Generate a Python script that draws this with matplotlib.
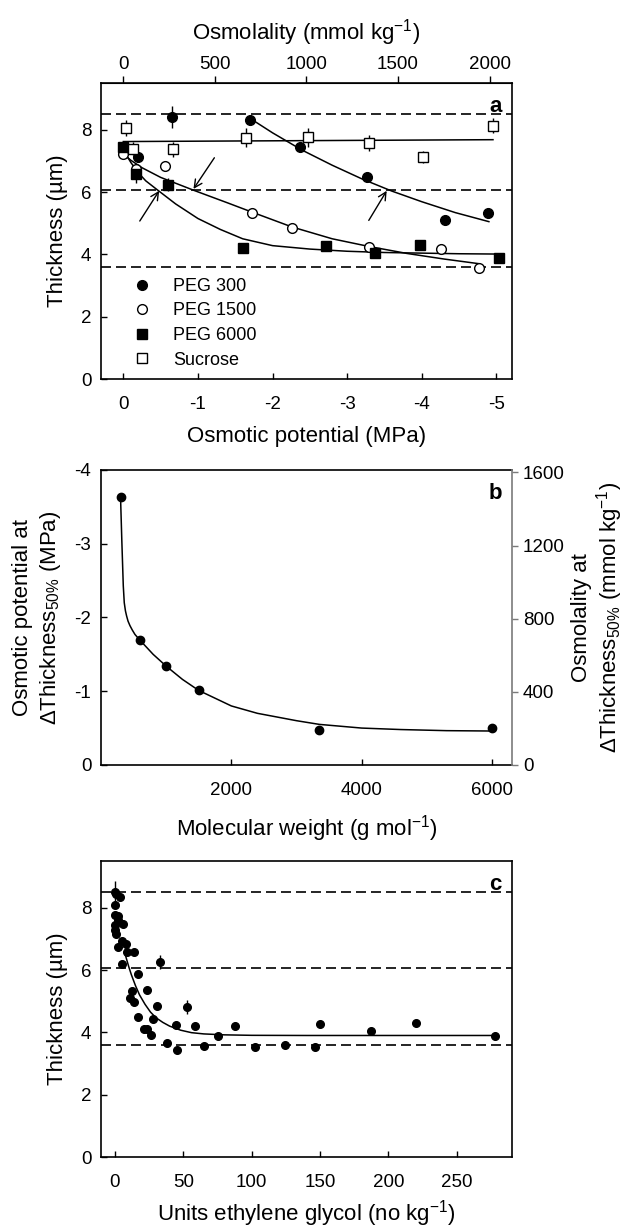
"""Three-panel figure: leaf thickness vs osmotic potential, PEG molecular weight and ethylene glycol units."""

import matplotlib

matplotlib.use("Agg")
import matplotlib.pyplot as plt
from matplotlib.lines import Line2D

plt.rcParams["font.family"] = ["Liberation Sans", "DejaVu Sans"]
plt.rcParams["mathtext.fontset"] = "custom"
plt.rcParams["mathtext.rm"] = "Liberation Sans"
plt.rcParams["mathtext.it"] = "Liberation Sans:italic"
plt.rcParams["mathtext.bf"] = "Liberation Sans:bold"
plt.rcParams["axes.unicode_minus"] = False

# ---- panel a: thickness vs osmotic potential ----
peg300_mpa = [-0.19, -0.65, -1.70, -2.37, -3.26, -4.31, -4.89]
peg300_t = [7.12, 8.40, 8.31, 7.46, 6.48, 5.09, 5.33]
peg300_err = [0.15, 0.35, 0.15, 0.10, 0.10, 0.10, 0.10]

peg1500_mpa = [0.0, -0.17, -0.56, -1.72, -2.26, -3.29, -4.26, -4.77]
peg1500_t = [7.23, 6.73, 6.82, 5.34, 4.86, 4.23, 4.18, 3.55]
peg1500_err = [0.10, 0.15, 0.10, 0.08, 0.08, 0.08, 0.08, 0.08]

peg6000_mpa = [0.0, -0.17, -0.60, -1.60, -2.71, -3.375, -3.98, -5.03]
peg6000_t = [7.44, 6.58, 6.24, 4.22, 4.28, 4.04, 4.29, 3.87]
peg6000_err = [0.20, 0.30, 0.20, 0.08, 0.08, 0.08, 0.08, 0.08]

sucrose_mpa = [-0.03, -0.125, -0.66, -1.64, -2.47, -3.29, -4.02, -4.955]
sucrose_t = [8.06, 7.39, 7.37, 7.74, 7.76, 7.57, 7.12, 8.13]
sucrose_err = [0.25, 0.20, 0.25, 0.30, 0.30, 0.25, 0.20, 0.25]

# fitted curves
fit300_mpa = [-1.74, -2.0, -2.4, -2.8, -3.2, -3.6, -4.0, -4.45, -4.9]
fit300_t = [8.30, 7.90, 7.34, 6.86, 6.42, 6.03, 5.69, 5.34, 5.05]
fit1500_mpa = [0.0, -0.1, -0.25, -0.5, -0.95, -1.4, -1.72, -2.26, -2.8, -3.3, -3.8, -4.3, -4.77]
fit1500_t = [7.22, 7.02, 6.78, 6.47, 6.05, 5.65, 5.36, 4.88, 4.50, 4.25, 4.03, 3.85, 3.70]
fit6000_mpa = [0.0, -0.1, -0.2, -0.3, -0.45, -0.7, -1.0, -1.3, -1.6, -2.0, -2.5, -3.0, -3.5, -4.0, -4.5, -5.03]
fit6000_t = [7.35, 6.95, 6.62, 6.36, 6.08, 5.62, 5.15, 4.80, 4.50, 4.28, 4.17, 4.10, 4.06, 4.04, 4.02, 4.01]
fitsuc_mpa = [0.0, -4.955]
fitsuc_t = [7.62, 7.68]

# arrows (tail -> tip) marking the 50 % thickness crossing
arrow_tails = [(-0.22, 5.07), (-1.22, 7.10), (-3.29, 5.09)]
arrow_tips = [(-0.48, 6.04), (-0.94, 6.10), (-3.53, 6.04)]

# reference thickness levels (dashed)
ref_levels = [8.5, 6.05, 3.6]

# ---- panel b: osmotic potential at 50 % thickness vs molecular weight ----
mw = [300, 600, 1000, 1500, 3350, 6000]
mw_mpa = [-3.63, -1.69, -1.34, -1.01, -0.47, -0.50]
mw_fit = [300, 320, 342, 357, 375, 393, 415, 444, 480, 521, 560, 600, 800, 1000, 1250, 1500, 2000, 2400,
          3000, 3350, 4000, 4600, 5300, 6000]
mw_fit_mpa = [-3.63, -3.03, -2.43, -2.20, -2.09, -2.02, -1.95, -1.89, -1.83, -1.77, -1.73, -1.69, -1.50,
              -1.34, -1.16, -1.01, -0.80, -0.70, -0.60, -0.55, -0.50, -0.48, -0.465, -0.46]

# ---- panel c: thickness vs units ethylene glycol ----
eg = [0, 1, 4, 0, 0, 2, 0, 2, 6, 0, 1, 2, 5, 8, 8.5, 14, 5, 33, 17, 12.4, 23.4, 10.9, 13.9, 30.7, 52.8, 17,
      27.7, 44.8, 58.4, 88, 150, 187, 220, 278, 21.2, 23.1, 26, 75.4, 38.2, 45.5, 65.2, 102.7, 124, 146]
eg_t = [8.50, 8.45, 8.34, 8.10, 7.78, 7.72, 7.43, 7.60, 7.47, 7.27, 7.17, 6.75, 6.92, 6.82, 6.58, 6.57, 6.19,
        6.25, 5.88, 5.34, 5.37, 5.09, 4.96, 4.86, 4.82, 4.50, 4.42, 4.25, 4.19, 4.22, 4.28, 4.04, 4.29, 3.88,
        4.11, 4.11, 3.93, 3.87, 3.67, 3.43, 3.56, 3.52, 3.59, 3.52]
eg_err = [0.35, 0.1, 0.1, 0.1, 0.1, 0.1, 0.1, 0.1, 0.1, 0.1, 0.1, 0.1, 0.1, 0.1, 0.1, 0.1, 0.1, 0.22, 0.1,
          0.1, 0.1, 0.1, 0.1, 0.1, 0.22, 0.1, 0.1, 0.1, 0.1, 0.1, 0.1, 0.1, 0.1, 0.1, 0.1, 0.1, 0.1, 0.1,
          0.1, 0.1, 0.1, 0.1, 0.1, 0.1]
eg_fit = [7.5, 10, 12, 15, 18, 22, 26, 30, 35, 40, 48, 56, 65, 80, 100, 140, 200, 278]
eg_fit_t = [6.50, 6.12, 5.85, 5.50, 5.20, 4.90, 4.65, 4.47, 4.32, 4.20, 4.07, 3.99, 3.95, 3.92, 3.905, 3.90,
            3.90, 3.90]

MPA_PER_OSMOL_A = 0.002455
MPA_PER_OSMOL_B = 0.00248

TICK_FS = 13.5
LABEL_FS = 16
DASH = (0, (6, 3))


def style_axes(ax):
    for spine in ax.spines.values():
        spine.set_linewidth(1.2)
    ax.tick_params(direction="in", length=4, width=1, labelsize=TICK_FS, top=False, right=False)
    ax.tick_params(axis="x", pad=12.5)
    ax.tick_params(axis="y", pad=7)


def draw_levels(ax):
    for level in ref_levels:
        ax.axhline(level, color="black", lw=1.2, ls=DASH, zorder=1)


fig = plt.figure(figsize=(6.3, 12.31), dpi=100)

# ---------------- panel a ----------------
ax = fig.add_axes([0.1603, 0.6921, 0.6524, 0.2405])
style_axes(ax)
draw_levels(ax)
ax.plot(fitsuc_mpa, fitsuc_t, color="black", lw=1.1, zorder=2)
ax.plot(fit300_mpa, fit300_t, color="black", lw=1.1, zorder=2)
ax.plot(fit1500_mpa, fit1500_t, color="black", lw=1.1, zorder=2)
ax.plot(fit6000_mpa, fit6000_t, color="black", lw=1.1, zorder=2)

common = dict(ls="none", ecolor="black", elinewidth=1, capsize=0, zorder=4)
ax.errorbar(peg300_mpa, peg300_t, yerr=peg300_err, fmt="o", ms=7, mfc="black", mec="black", **common)
ax.errorbar(peg1500_mpa, peg1500_t, yerr=peg1500_err, fmt="o", ms=7, mfc="white", mec="black", mew=1, **common)
ax.errorbar(peg6000_mpa, peg6000_t, yerr=peg6000_err, fmt="s", ms=6.5, mfc="black", mec="black", **common)
ax.errorbar(sucrose_mpa, sucrose_t, yerr=sucrose_err, fmt="s", ms=6.5, mfc="white", mec="black", mew=1, **common)

for tail, tip in zip(arrow_tails, arrow_tips):
    ax.annotate("", xy=tip, xytext=tail,
                arrowprops=dict(arrowstyle="->", lw=1, color="black", mutation_scale=14, shrinkA=0, shrinkB=0),
                zorder=5)

ax.set_xlim(0.30, -5.21)
ax.set_ylim(0, 9.5)
ax.set_xticks([0, -1, -2, -3, -4, -5])
ax.set_xticklabels(["0", "-1", "-2", "-3", "-4", "-5"])
ax.set_yticks([0, 2, 4, 6, 8])
ax.set_xlabel("Osmotic potential (MPa)", fontsize=LABEL_FS, labelpad=9)
ax.set_ylabel("Thickness (\u00b5m)", fontsize=LABEL_FS, labelpad=9)
ax.text(0.975, 0.955, "a", transform=ax.transAxes, ha="right", va="top", fontsize=16, fontweight="bold")

handles = [
    Line2D([0], [0], ls="none", marker="o", ms=7, mfc="black", mec="black"),
    Line2D([0], [0], ls="none", marker="o", ms=7, mfc="white", mec="black", mew=1),
    Line2D([0], [0], ls="none", marker="s", ms=6.5, mfc="black", mec="black"),
    Line2D([0], [0], ls="none", marker="s", ms=6.5, mfc="white", mec="black", mew=1),
]
ax.legend(handles, ["PEG 300", "PEG 1500", "PEG 6000", "Sucrose"], loc="lower left",
          bbox_to_anchor=(0.066, 0.035), frameon=False, fontsize=13, handlelength=1.5, handletextpad=1.0,
          labelspacing=0.42, borderpad=0, borderaxespad=0, numpoints=1)

top = ax.secondary_xaxis("top", functions=(lambda m: -m / MPA_PER_OSMOL_A, lambda o: -o * MPA_PER_OSMOL_A))
top.set_xticks([0, 500, 1000, 1500, 2000])
top.tick_params(direction="out", length=5, width=1, pad=2, labelsize=TICK_FS)
top.set_xlabel("Osmolality (mmol kg$^{-1}$)", fontsize=LABEL_FS, labelpad=12)

# ---------------- panel b ----------------
axb = fig.add_axes([0.1603, 0.3786, 0.6524, 0.2396])
style_axes(axb)
axb.spines["right"].set_visible(False)
axb.plot(mw_fit, mw_fit_mpa, color="black", lw=1.1, zorder=2)
axb.plot(mw, mw_mpa, "o", ms=6, color="black", zorder=3)
axb.set_xlim(0, 6305)
axb.set_ylim(0, -4)
axb.set_xticks([2000, 4000, 6000])
axb.set_yticks([0, -1, -2, -3, -4])
axb.set_yticklabels(["0", "-1", "-2", "-3", "-4"])
axb.set_xlabel("Molecular weight (g mol$^{-1}$)", fontsize=LABEL_FS, labelpad=10)
axb.set_ylabel("Osmotic potential at\n\u0394Thickness$_{50\\%}$ (MPa)", fontsize=LABEL_FS, labelpad=8,
               linespacing=1.3)
axb.text(0.975, 0.955, "b", transform=axb.transAxes, ha="right", va="top", fontsize=16, fontweight="bold")

axr = axb.twinx()
axr.set_ylim(0, 4 / MPA_PER_OSMOL_B)
axr.set_yticks([0, 400, 800, 1200, 1600])
for name in ("left", "top", "bottom"):
    axr.spines[name].set_visible(False)
axr.spines["right"].set_color("#7a7a7a")
axr.spines["right"].set_linewidth(1.2)
axr.tick_params(direction="out", length=4, width=1, pad=4, colors="#7a7a7a", labelcolor="black",
                labelsize=TICK_FS)
axr.set_ylabel("Osmolality at\n\u0394Thickness$_{50\\%}$ (mmol kg$^{-1}$)", fontsize=LABEL_FS, labelpad=4,
               linespacing=1.12)

# ---------------- panel c ----------------
axc = fig.add_axes([0.1603, 0.0601, 0.6524, 0.2405])
style_axes(axc)
draw_levels(axc)
axc.plot(eg_fit, eg_fit_t, color="black", lw=1.1, zorder=2)
axc.errorbar(eg, eg_t, yerr=eg_err, fmt="o", ms=5.5, mfc="black", mec="black", ls="none", ecolor="black",
             elinewidth=1, capsize=0, zorder=3)
axc.set_xlim(-10.2, 290.3)
axc.set_ylim(0, 9.5)
axc.set_xticks([0, 50, 100, 150, 200, 250])
axc.set_yticks([0, 2, 4, 6, 8])
axc.set_xlabel("Units ethylene glycol (no kg$^{-1}$)", fontsize=LABEL_FS, labelpad=5)
axc.set_ylabel("Thickness (\u00b5m)", fontsize=LABEL_FS, labelpad=9)
axc.text(0.975, 0.955, "c", transform=axc.transAxes, ha="right", va="top", fontsize=16, fontweight="bold")

fig.savefig("out.png", dpi=100)
